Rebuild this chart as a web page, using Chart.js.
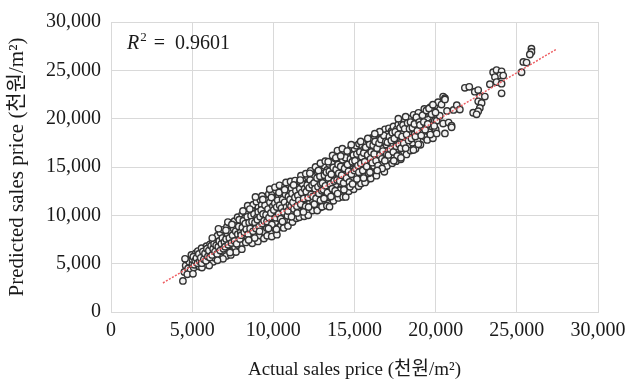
<!DOCTYPE html>
<html>
<head>
<meta charset="utf-8">
<script src="https://cdn.jsdelivr.net/npm/chart.js@4/dist/chart.umd.min.js"></script>
<style>
  html, body { margin: 0; padding: 0; background: #ffffff; }
  #wrap { width: 638px; height: 383px; position: relative; }
</style>
</head>
<body>
<div id="wrap"><canvas id="c" width="638" height="383"></canvas></div>
<script>
// ---- data (thousand won / m², actual vs predicted) ----
const xTitle = 'Actual sales price (천원/m²)';
const yTitle = 'Predicted sales price (천원/m²)';
const rSquaredText = '0.9601';
const axisTicks = [0, 5000, 10000, 15000, 20000, 25000, 30000];

// [actual, predicted] (approximate)
const observedPairs = [
[4430,3210],[4520,4150],[4600,4800],[4680,5400],[4750,4500],[4820,5200],[4900,4350],[4950,5900],[5020,5000],[5100,4600],[5150,5600],[5230,6100],[5300,4900],[5380,5400],[5450,4700],[4560,5500],[4700,3900],[5050,3950],[5350,6300],
[5520,5800],[5580,6600],[5640,5100],[5700,6200],[5760,4900],[5810,5700],[5880,6800],[5930,5300],[5990,6400],[6040,5800],[6100,7000],[6150,5500],[6210,6200],[6260,7300],[6300,5200],[6360,6700],[6420,6000],[6470,7600],[5600,4600],[6050,4800],[6380,5600],
[6520,6300],[6560,7900],[6600,5600],[6650,7100],[6700,6500],[6740,8200],[6790,5900],[6830,7500],[6880,6800],[6920,8500],[6970,6200],[7010,7800],[7060,7000],[7100,5800],[7140,8800],[7180,7300],[7230,6600],[7270,8100],[7310,9200],[7350,6900],[7400,7700],[7440,8700],[7480,6300],[6620,8600],[7200,9300],[6900,5500],[7380,5900],
[7520,8300],[7560,7200],[7600,9400],[7640,6700],[7680,8000],[7720,8900],[7760,7500],[7800,9800],[7840,6900],[7880,8400],[7920,7800],[7960,9300],[8000,8600],[8040,7100],[8080,10100],[8120,8200],[8160,9000],[8200,7600],[8240,9700],[8280,8800],[8320,10400],[8360,7900],[8400,9300],[8440,8500],[8480,10700],[7700,6200],[8060,6500],[8300,7200],[8420,11000],
[8520,8200],[8560,9800],[8600,7400],[8640,9100],[8680,10500],[8720,8700],[8760,11100],[8800,9500],[8840,8000],[8880,10200],[8920,9000],[8960,11400],[9000,8500],[9040,9900],[9080,10800],[9120,7800],[9160,9400],[9200,11600],[9240,8900],[9280,11070],[9320,10300],[9360,9700],[9400,8300],[9440,11800],[9480,10000],[8700,7100],[9050,7300],[9300,12000],[8900,11900],[9420,7600],
[9520,9200],[9560,10800],[9600,8700],[9640,11500],[9680,9800],[9720,12200],[9760,10400],[9800,8200],[9840,11000],[9880,9500],[9920,12400],[9960,10700],[10000,8900],[10040,11700],[10080,10100],[10120,9300],[10160,12600],[10200,11200],[10240,8600],[10280,10500],[10320,12100],[10360,9700],[10400,11400],[10440,12800],[10480,10300],[9620,7900],[9900,7800],[10220,8000],[10460,8900],[9780,12700],[10100,12900],[10380,13100],
[10520,11900],[10560,9900],[10600,12500],[10640,11100],[10680,9200],[10720,13000],[10760,10600],[10800,12100],[10840,9600],[10880,11600],[10920,13200],[10960,10900],[11000,12400],[11040,9400],[11080,11300],[11120,12800],[11160,10400],[11200,13300],[11240,11800],[11280,9900],[11320,12200],[11360,10800],[11400,13000],[11440,11500],[11480,12600],[10640,8700],[10900,8900],[11180,9300],[11420,9700],[10780,13400],[11060,13500],[11340,13600],
[11520,10500],[11560,12900],[11600,11300],[11640,13500],[11680,12000],[11720,10200],[11760,12700],[11800,11000],[11840,13800],[11880,12300],[11920,10700],[11960,13200],[12000,11700],[12040,12900],[12080,10400],[12120,14000],[12160,12400],[12200,11200],[12240,13500],[12280,12000],[12320,10900],[12360,14200],[12400,12800],[12440,11500],[12480,13700],[11600,9800],[11900,9900],[12150,10000],[12420,10500],[11700,14100],[12000,14300],[12300,14600],
[12520,12200],[12560,14000],[12600,11000],[12640,13300],[12680,12600],[12720,14500],[12760,11600],[12800,13700],[12840,12900],[12880,10800],[12920,14800],[12960,12300],[13000,13900],[13040,11400],[13080,14300],[13120,12700],[13160,15100],[13200,11900],[13240,13500],[13280,12500],[13320,14700],[13360,11200],[13400,13100],[13440,15300],[13480,12300],[12700,10500],[13000,10900],[13300,11000],[12600,15000],[12900,15400],[13200,15600],[13460,10900],
[13520,14000],[13560,12800],[13600,15500],[13640,11800],[13680,13600],[13720,14800],[13760,12300],[13800,15900],[13840,13200],[13880,14400],[13920,12000],[13960,16000],[14000,13800],[14040,15100],[14080,12600],[14120,14600],[14160,16300],[14200,13300],[14240,15400],[14280,12200],[14320,14100],[14360,16500],[14400,13600],[14440,15000],[14480,12900],[13700,11500],[14000,11800],[14300,11900],[13650,16200],[13950,16700],[14250,16900],[14460,11900],
[14520,14500],[14560,16100],[14600,13200],[14640,15600],[14680,14000],[14720,16800],[14760,12800],[14800,15200],[14840,13700],[14880,16400],[14920,14800],[14960,13100],[15000,16900],[15040,15400],[15080,14100],[15120,17200],[15160,13500],[15200,16000],[15240,14700],[15280,17400],[15320,13900],[15360,15700],[15400,16600],[15440,14300],[15480,17100],[14650,12500],[14950,12700],[15250,13000],[15400,13300],[14800,17300],
[15520,15200],[15560,16800],[15600,14000],[15640,17500],[15680,15800],[15720,13600],[15760,16400],[15800,14700],[15840,17800],[15880,15300],[15920,16900],[15960,14200],[16000,17300],[16040,15600],[16080,18000],[16120,14600],[16160,16600],[16200,15100],[16240,18200],[16280,16100],[16320,14400],[16360,17600],[16400,15700],[16440,18400],[16480,16800],[15650,13400],[16000,13800],[16350,14100],
[16520,15300],[16560,17900],[16600,16200],[16640,14800],[16680,18600],[16720,16900],[16760,15500],[16800,17700],[16840,14500],[16880,18900],[16920,16300],[16960,17300],[17000,15100],[17040,18400],[17080,16700],[17120,19000],[17160,15800],[17200,17900],[17240,16400],[17280,18700],[17320,15400],[17360,17200],[17400,19200],[17440,16000],[17480,18100],
[17520,16800],[17560,15600],[17600,18900],[17650,17400],[17700,19400],[17750,16200],[17800,18200],[17850,15800],[17900,19600],[17950,17000],[18000,18500],[18050,16600],[18100,19800],[18150,17700],[18200,16300],[18250,19100],[18300,17300],[18350,20000],[18400,18000],[18450,16700],[18150,20200],[17700,20000],
[18520,19300],[18580,17500],[18640,20400],[18700,18400],[18760,16900],[18820,19800],[18880,17800],[18940,20600],[19000,18700],[19060,17300],[19120,20100],[19180,19000],[19230,18540],[19300,21000],[19360,18100],[19440,19280],[19400,20500],[19480,17800],
[19550,20700],[19600,18600],[19680,21200],[19750,19600],[19830,17970],[19850,20950],[19900,20000],[19950,21360],[19950,19780],[20000,18900],[20060,18470],[20060,19780],[20150,21700],[20250,20300],[20360,21460],[20460,22290],[20460,19500],
[20570,22120],[20570,18470],[20570,21990],[20700,20800],[20800,19600],[20980,19280],[20980,19100],[21100,20900],[21300,21400],[21490,20950],
[21800,23190],[22070,23290],[22410,22790],[22620,22960],[22720,22290],[23030,22290],[22620,21790],[22830,21620],[22720,21110],[22310,20610],[22620,20780],[22520,20450],
[23540,24800],[23750,25030],[24060,24900],[23950,24460],[23650,24300],[24160,24460],[23750,23790],[24060,23620],[23340,23560],[24060,22620],
[25290,24800],[25400,25870],[25600,25800],[25900,27240],[25900,26900],[25800,26640],
[5010,5450],[5070,5720],[5130,4880],[5190,5300],[5260,5580],[5330,5050],[5410,6000],[5470,5250],[5530,5600],[5590,5050],[5660,6250],[5720,5450],[5790,6050],[5850,5300],[5910,6550],[5970,5750],
[6030,6350],[6090,5650],[6170,6850],[6230,5900],[6290,6550],[6350,7050],[6410,6250],[6480,6900],[6540,6000],[6610,6750],[6670,7350],[6730,6350],[6800,7050],[6860,7650],[6930,6550],[6990,7250],[6560,5350],[6240,7650],
[7030,6750],[7090,7550],[7160,8150],[7220,6950],[7290,7650],[7350,8350],[7420,7150],[7490,7950],[7550,8650],[7610,7350],[7680,8350],[7740,7050],[7810,8050],[7870,8850],[7940,7550],[7990,8250],[7330,6150],[7900,9550],[7450,9050],[7080,8450],
[8020,7950],[8090,8750],[8150,9450],[8210,8250],[8270,9150],[8330,8550],[8390,9850],[8450,8050],[8510,9250],[8570,8650],[8630,9950],[8690,9350],[8750,8350],[8810,10150],[8870,9250],[8930,8650],[8990,9750],[8550,10650],[8130,10450],[8850,7650],[8480,7450],
[9020,9550],[9070,10350],[9130,8850],[9190,9850],[9250,10550],[9310,9150],[9370,10150],[9430,9450],[9490,11050],[9550,10050],[9610,9350],[9670,10650],[9730,9750],[9790,11350],[9850,10250],[9910,9050],[9970,10950],[9350,11650],[9700,8650],[9150,8350],[9880,11850],
[10030,10550],[10090,11250],[10150,9750],[10210,10850],[10270,11550],[10330,10150],[10390,11050],[10450,9650],[10510,10750],[10570,11650],[10630,10350],[10690,11350],[10750,12150],[10810,10850],[10870,9950],[10930,11950],[10990,11150],[10350,12350],[10700,12650],[10560,9350],[10190,8550],[10900,10450],
[11030,11650],[11090,10950],[11150,12250],[11210,11350],[11270,10650],[11330,11850],[11390,12550],[11450,10950],[11510,12050],[11570,11550],[11630,12750],[11690,11150],[11750,12350],[11810,13250],[11870,11750],[11930,12750],[11990,10950],[11250,13150],[11660,13650],[11470,10250],[11850,10350],[11120,9850],
[12030,12450],[12090,13150],[12150,11850],[12210,12850],[12270,13650],[12330,12150],[12390,13150],[12450,11950],[12510,13350],[12570,12750],[12630,11750],[12690,13850],[12750,12950],[12810,12250],[12870,14050],[12930,13250],[12990,12550],[12250,14350],[12780,14650],[12520,11150],[12900,11550],[12170,10850],
[13030,13350],[13090,12650],[13150,14150],[13210,13050],[13270,14450],[13330,12350],[13390,13850],[13450,14550],[13510,13250],[13570,14250],[13630,12750],[13690,14950],[13750,13550],[13810,12550],[13870,14750],[13930,13650],[13990,15250],[13380,15550],[13850,15950],[13550,11950],[13120,11750],[13960,12250],
[14030,14350],[14090,13550],[14150,15050],[14210,14150],[14270,15750],[14330,13350],[14390,14850],[14450,15950],[14510,13850],[14570,15250],[14630,14550],[14690,13450],[14750,15850],[14810,14250],[14870,15550],[14930,16250],[14990,14650],[14550,16650],[14150,16150],[14720,12950],[14350,12650],[14880,13250],
[15030,15650],[15090,14850],[15150,16350],[15210,15150],[15270,14450],[15330,16550],[15390,15350],[15450,16050],[15510,14650],[15570,16450],[15630,15550],[15690,17050],[15750,15050],[15810,16250],[15870,14350],[15930,17350],[15990,15850],[15380,17650],[15820,17950],[15560,13850],[15150,13750],[15950,14450],
[16030,16550],[16090,15450],[16150,17250],[16210,16350],[16270,17650],[16330,15650],[16390,16950],[16450,15150],[16510,17450],[16570,16250],[16630,17850],[16690,15850],[16750,16650],[16810,18250],[16870,15650],[16930,17650],[16990,16350],[16550,18650],[16250,18450],[16700,14850],[16400,14650],
[17030,17550],[17090,16250],[17150,18150],[17210,16850],[17270,17750],[17330,18550],[17390,16550],[17450,17950],[17510,18650],[17570,17150],[17630,16150],[17690,18350],[17750,17350],[17810,19050],[17870,16950],[17930,18150],[17990,19350],[17420,15650],[17860,15950],
[18030,17450],[18090,18950],[18150,16950],[18210,18350],[18270,19550],[18330,17750],[18390,18950],[18450,19650],[18510,17950],[18570,19050],[18630,16750],[18690,19450],[18750,18150],[18810,20150],[18870,18750],[18930,17350],[18990,19650],
[19030,19350],[19110,18250],[19190,20350],[19270,19650],[19350,18850],[19430,20850],[19510,19450],[19590,21050],[19670,18350],[19750,20450],[19830,21450],[19910,19250],[19990,20650]
];

// linear trend line end points
const trendActual = [3200, 27400];
const trendPredicted = [3000, 27150];

// ---- chart ----
const serif = "'Liberation Serif', 'Times New Roman', 'Noto Sans CJK KR', serif";

const rSquaredPlugin = {
  id: 'rSquared',
  afterDraw(chart) {
    const ctx = chart.ctx;
    const a = chart.chartArea;
    ctx.save();
    ctx.fillStyle = '#1a1a1a';
    ctx.textBaseline = 'alphabetic';
    let x = a.left + 16, y = a.top + 27;
    ctx.font = "italic 20px 'Liberation Serif', serif";
    ctx.fillText('R', x, y);
    x += ctx.measureText('R').width + 1;
    ctx.font = "13px 'Liberation Serif', serif";
    ctx.fillText('2', x, y - 8);
    x += ctx.measureText('2').width + 7;
    ctx.font = "20px 'Liberation Serif', serif";
    ctx.fillText('=  ' + rSquaredText, x, y);
    ctx.restore();
  }
};

new Chart(document.getElementById('c'), {
  type: 'scatter',
  data: {
    datasets: [
      {
        type: 'line',
        label: 'trend',
        data: trendActual.map((v, i) => ({ x: v, y: trendPredicted[i] })),
        borderColor: '#ee5f63',
        borderWidth: 1.5,
        borderDash: [2, 1.5],
        pointRadius: 0,
        fill: false,
        order: 0
      },
      {
        label: 'observed',
        data: observedPairs.map(p => ({ x: p[0], y: p[1] })),
        pointStyle: 'circle',
        pointRadius: 3.2,
        pointBorderWidth: 1.4,
        borderColor: '#333333',
        backgroundColor: '#f4f4f4',
        order: 1
      }
    ]
  },
  options: {
    responsive: false,
    animation: false,
    layout: { padding: { left: 0, right: 40, top: 13, bottom: 0 } },
    plugins: { legend: { display: false }, tooltip: { enabled: false } },
    scales: {
      x: {
        type: 'linear',
        min: axisTicks[0],
        max: axisTicks[axisTicks.length - 1],
        afterBuildTicks(scale) { scale.ticks = axisTicks.map(v => ({ value: v })); },
        afterFit(scale) { scale.height = 71; },
        ticks: {
          color: '#1a1a1a',
          padding: 7,
          maxRotation: 0,
          font: { family: serif, size: 20 },
          callback: v => v.toLocaleString('en-US')
        },
        grid: { color: '#d9d9d9', lineWidth: 1, drawTicks: false },
        border: { display: true, color: '#d9d9d9' },
        title: {
          display: true,
          text: xTitle,
          color: '#1a1a1a',
          font: { family: serif, size: 19 },
          padding: { top: 0, bottom: 2 }
        }
      },
      y: {
        type: 'linear',
        min: axisTicks[0],
        max: axisTicks[axisTicks.length - 1],
        afterBuildTicks(scale) { scale.ticks = axisTicks.map(v => ({ value: v })); },
        afterFit(scale) { scale.width = 111; },
        ticks: {
          color: '#1a1a1a',
          padding: 10,
          font: { family: serif, size: 20 },
          callback: v => v.toLocaleString('en-US')
        },
        grid: { color: '#d9d9d9', lineWidth: 1, drawTicks: false },
        border: { display: true, color: '#d9d9d9' },
        title: {
          display: true,
          text: yTitle,
          color: '#1a1a1a',
          font: { family: serif, size: 21 },
          padding: { top: 5, bottom: 0 }
        }
      }
    }
  },
  plugins: [rSquaredPlugin]
});
</script>
</body>
</html>
